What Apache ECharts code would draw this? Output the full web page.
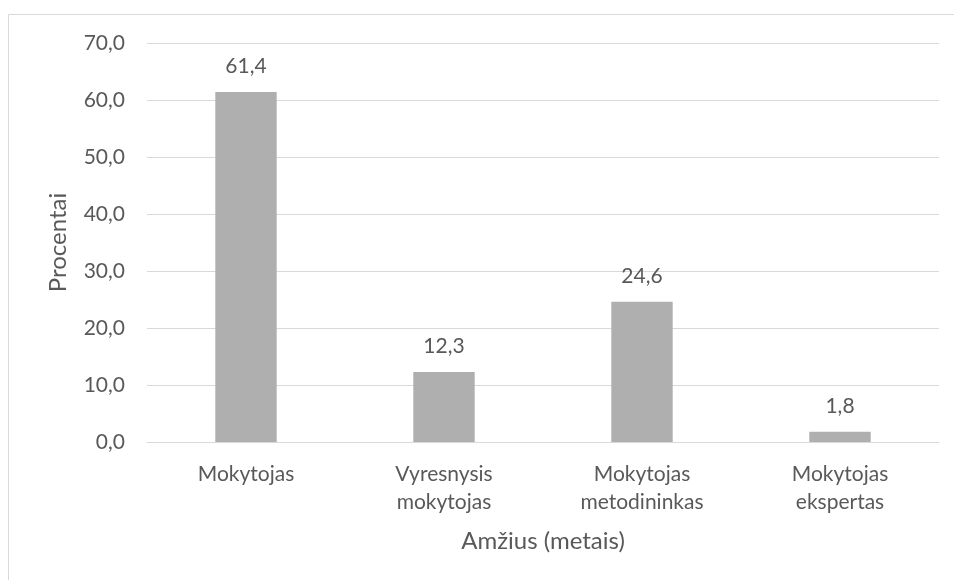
<!DOCTYPE html>
<html>
<head>
<meta charset="utf-8">
<script src="https://cdn.jsdelivr.net/npm/echarts@6/dist/echarts.min.js"></script>
<style>
html,body{margin:0;padding:0;background:#fff;}
#c{width:954px;height:580px;}
</style>
</head>
<body>
<div id="c"></div>
<script>
const categories = ['Mokytojas', 'Vyresnysis\nmokytojas', 'Mokytojas\nmetodininkas', 'Mokytojas\nekspertas'];
const values = [61.4, 12.3, 24.6, 1.8];
const yTicks = { min: 0, max: 70, interval: 10 };
const xTitle = 'Amžius (metais)';
const yTitle = 'Procentai';

const FONT = 'Lato, "Open Sans", sans-serif';
const TXT = '#595959';
const fmt = v => v.toFixed(1).replace('.', ',');

const chart = echarts.init(document.getElementById('c'));
chart.setOption({
  animation: false,
  backgroundColor: '#fff',
  graphic: [{
    type: 'rect',
    shape: { x: 8.5, y: 14.5, width: 1000, height: 1000 },
    style: { fill: 'none', stroke: '#d9d9d9', lineWidth: 1 },
    silent: true
  }],
  grid: { left: 147, right: 15, top: 43, bottom: 138 },
  xAxis: {
    type: 'category',
    data: categories,
    axisLine: { show: true, lineStyle: { color: '#d9d9d9', width: 1 } },
    axisTick: { show: false },
    axisLabel: { color: TXT, fontFamily: FONT, fontSize: 21, margin: 18, lineHeight: 28, interval: 0 },
    name: xTitle,
    nameLocation: 'middle',
    nameGap: 87,
    nameTextStyle: { color: TXT, fontFamily: FONT, fontSize: 24 }
  },
  yAxis: {
    type: 'value',
    min: yTicks.min, max: yTicks.max, interval: yTicks.interval,
    axisLine: { show: false },
    axisTick: { show: false },
    splitLine: { lineStyle: { color: '#d9d9d9', width: 1 } },
    axisLabel: { color: TXT, fontFamily: FONT, fontSize: 21, margin: 22, formatter: fmt },
    name: yTitle,
    nameLocation: 'middle',
    nameGap: 77,
    nameRotate: 90,
    nameTextStyle: { color: TXT, fontFamily: FONT, fontSize: 24 }
  },
  series: [{
    type: 'bar',
    data: values,
    barWidth: '31%',
    itemStyle: { color: '#AFAFAF' },
    label: {
      show: true, position: 'top', distance: 15,
      color: TXT, fontFamily: FONT, fontSize: 21,
      formatter: p => fmt(p.value)
    }
  }]
});
</script>
</body>
</html>
